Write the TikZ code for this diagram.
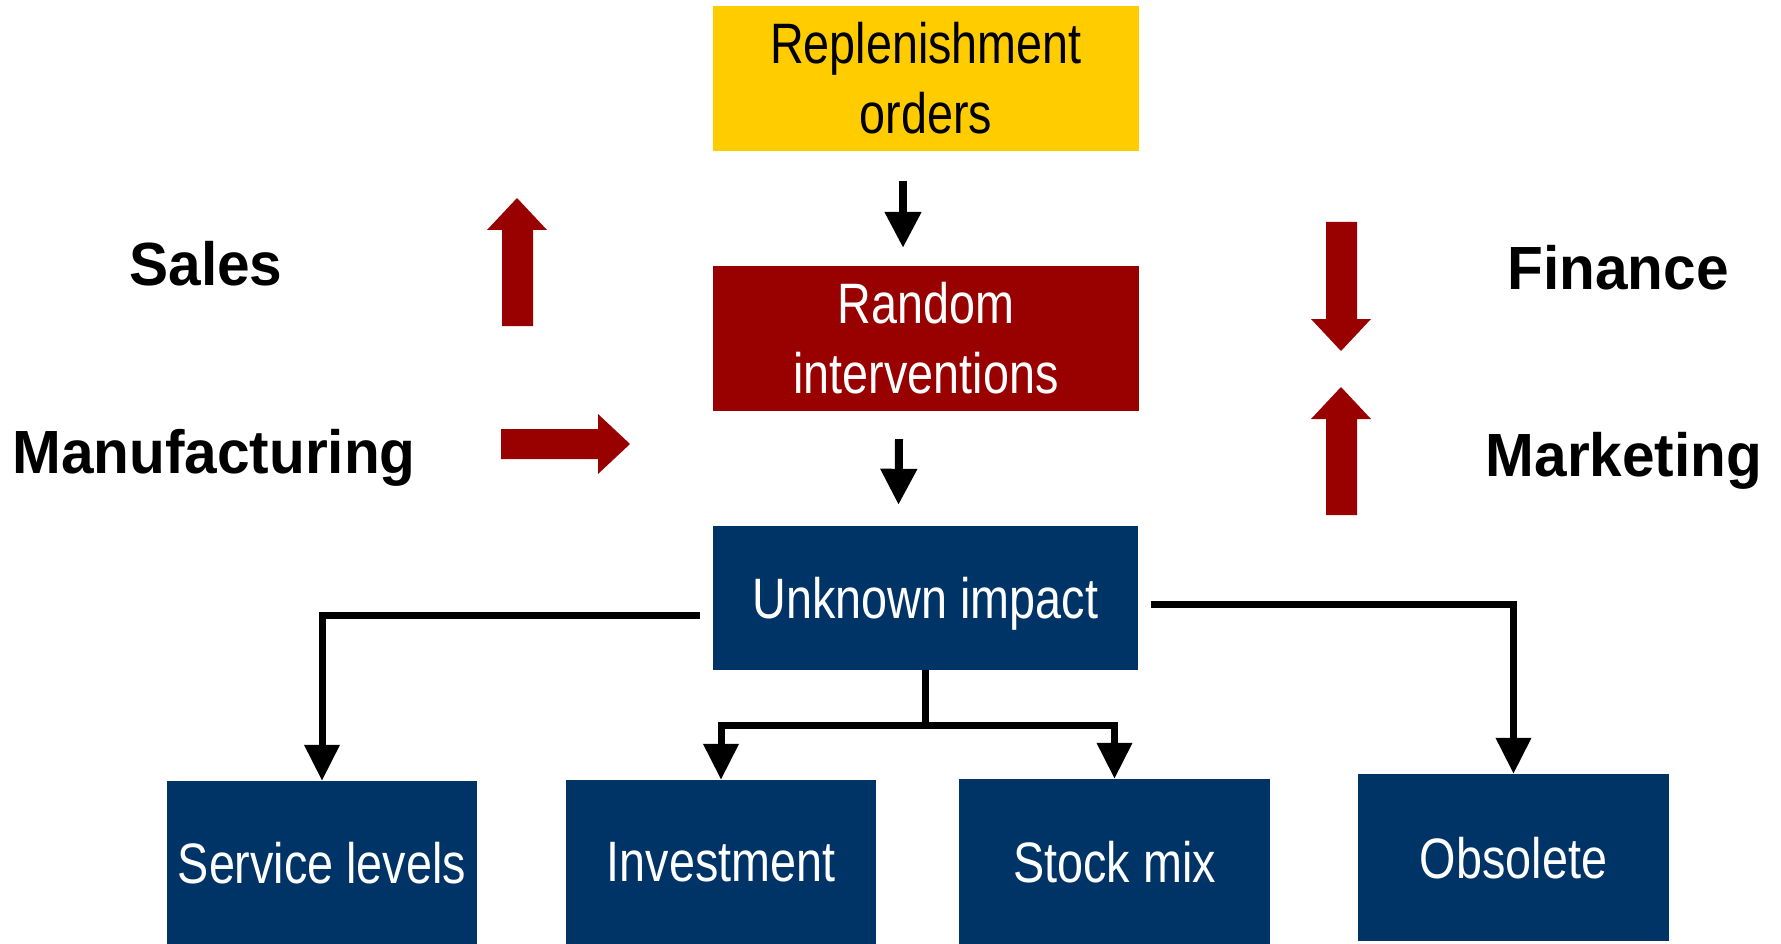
\documentclass[tikz,border=0pt]{standalone}
\usepackage{fontspec}
\setmainfont{Liberation Sans}
\newfontfamily\narrowfont{Liberation Sans}[FakeStretch=0.82]
\newfontfamily\labelfont{Liberation Sans}[FakeStretch=0.96]
\usetikzlibrary{arrows.meta}
\definecolor{ygold}{HTML}{FFCC00}
\definecolor{dred}{HTML}{990000}
\definecolor{navy}{HTML}{003366}
\tikzset{
  box/.style={inner sep=0pt, align=center, font=\narrowfont\fontsize{57}{70}\selectfont},
  ybox/.style={box, fill=ygold, text=black, minimum width=426pt, minimum height=145pt},
  rbox/.style={box, fill=dred, text=white, minimum width=426pt, minimum height=145pt},
  bbox/.style={box, fill=navy, text=white, text depth=0pt},
  sidelabel/.style={inner sep=0pt, anchor=base, font=\labelfont\bfseries\fontsize{61}{70}\selectfont},
  flowarrow/.style={line width=8pt, -{Triangle[length=36pt,width=35pt]}},
  linkarrow/.style={line width=7pt, -{Triangle[length=36pt,width=34pt]}},
  blockarrow/.style={fill=dred}
}
\begin{document}
\begin{tikzpicture}[x=1pt,y=-1pt]
\useasboundingbox (0,0) rectangle (1781,944);
% main boxes
\node[ybox] (rep) at (926,78.5) {Replenishment\\orders};
\node[rbox] (rnd) at (926,338.5) {Random\\interventions};
\node[bbox, minimum width=425pt, minimum height=144pt] (unk) at (925.5,598) {Unknown impact};
\node[bbox, minimum width=310pt, minimum height=163pt] (svc) at (322,862.5) {Service levels};
\node[bbox, minimum width=310pt, minimum height=164pt] (inv) at (721,862) {Investment};
\node[bbox, minimum width=311pt, minimum height=165pt] (stk) at (1114.5,861.5) {Stock mix};
\node[bbox, minimum width=311pt, minimum height=167pt] (obs) at (1513.5,857.5) {Obsolete};
% side labels
\node[sidelabel] (sales) at (206,286) {Sales};
\node[sidelabel] (manu) at (214,473) {Manufacturing};
\node[sidelabel] (fin) at (1618,289) {Finance};
\node[sidelabel] (mkt) at (1624,476) {Marketing};
% flow arrows
\draw[flowarrow] ([xshift=-23pt,yshift=-30pt]rep.south) -- ([xshift=-23pt,yshift=18pt]rnd.north);
\draw[flowarrow] ([xshift=-27pt,yshift=-28pt]rnd.south) -- ([xshift=-27pt,yshift=21pt]unk.north);
% connectors
\coordinate (lstart) at ([xshift=-13pt,yshift=-17pt]unk.west);
\coordinate (rstart) at ([xshift=13pt,yshift=-6pt]unk.east);
\coordinate (mid) at ([yshift=-55pt]unk.south);
\draw[linkarrow] (lstart) -| (svc.north);
\draw[linkarrow] (rstart) -| (obs.north);
\draw[line width=7pt] (unk.south) -- (mid);
\draw[linkarrow] (mid) -| (inv.north);
\draw[linkarrow] (mid) -| (stk.north);
% block arrows
\fill[blockarrow] (502,326) -- (502,230) -- (487,230) -- (517,198) -- (547,230) -- (533,230) -- (533,326) -- cycle;
\fill[blockarrow] (501,429) -- (598,429) -- (598,414) -- (630,444) -- (598,474) -- (598,459) -- (501,459) -- cycle;
\fill[blockarrow] (1326,222) -- (1357,222) -- (1357,319) -- (1371,319) -- (1341,351) -- (1311,319) -- (1326,319) -- cycle;
\fill[blockarrow] (1326,515) -- (1326,419) -- (1311,419) -- (1341,387) -- (1371,419) -- (1357,419) -- (1357,515) -- cycle;
\end{tikzpicture}
\end{document}
